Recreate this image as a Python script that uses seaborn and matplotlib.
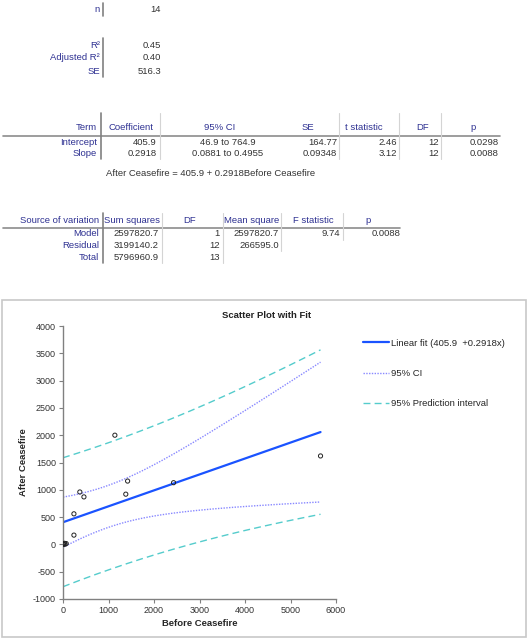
import numpy as np
import pandas as pd
import matplotlib
matplotlib.use("Agg")
import matplotlib.pyplot as plt
import seaborn as sns
from matplotlib.lines import Line2D

# ---------------- data ----------------
before = [5, 15, 30, 45, 70, 240, 240, 370, 460, 1140, 1380, 1420, 2430, 5660]
after = [10, 0, 20, 5, 15, 560, 170, 960, 870, 2000, 920, 1160, 1130, 1620]

n_label = "n"
n_value = "14"
summary_labels = ["R²", "Adjusted R²", "SE"]
summary_values = ["0.45", "0.40", "516.3"]

coef_headers = ["Term", "Coefficient", "95% CI", "SE", "t statistic", "DF", "p"]
coef_terms = ["Intercept", "Slope"]
coef_values = [405.9, 0.2918]
coef_text = ["405.9", "0.2918"]
coef_ci = ["46.9 to 764.9", "0.0881 to 0.4955"]
coef_se = ["164.77", "0.09348"]
coef_t = ["2.46", "3.12"]
coef_df = ["12", "12"]
coef_p = ["0.0298", "0.0088"]
equation = "After Ceasefire = 405.9 + 0.2918Before Ceasefire"

anova_headers = ["Source of variation", "Sum squares", "DF", "Mean square", "F statistic", "p"]
anova_sources = ["Model", "Residual", "Total"]
anova_ss = ["2597820.7", "3199140.2", "5796960.9"]
anova_df = ["1", "12", "13"]
anova_ms = ["2597820.7", "266595.0", ""]
anova_f = ["9.74", "", ""]
anova_p = ["0.0088", "", ""]

resid_se = 516.3
n_obs = 14
ci_mult = 2.7876   # Working-Hotelling band
pi_mult = 2.1788   # t(0.975, 12)

# ---------------- style ----------------
sns.set_theme(style="white")
plt.rcParams["font.family"] = ["Liberation Sans", "DejaVu Sans"]
plt.rcParams["axes.unicode_minus"] = False

W, H = 529, 640
fig = plt.figure(figsize=(W / 100, H / 100), dpi=100)

LBL = "#2e3192"
VAL = "#333333"
FS = 6.8


def fx(x):
    return x / W


def fy(y):
    return 1 - y / H


def T(x, y, s, ha="right", color=VAL, **kw):
    fig.text(fx(x), fy(y), s, ha=ha, va="center", fontsize=FS, color=color, **kw)


def L(x0, y0, x1, y1, color="#d4d4d4", lw=0.8):
    fig.add_artist(Line2D([fx(x0), fx(x1)], [fy(y0), fy(y1)], transform=fig.transFigure,
                          color=color, lw=lw))


# ---- section 1 ----
T(100, 9, n_label, color=LBL)
T(161, 9, n_value)
L(103, 3, 103, 16, color="#808080", lw=1.2)
for i, (lab, v) in enumerate(zip(summary_labels, summary_values)):
    y = 45 + i * 13
    T(100, y, lab, color=LBL)
    T(161, y, v)
L(103, 38, 103, 77, color="#808080", lw=1.2)

# ---- section 2: coefficients ----
hy = 128
hx = [97, 131, 220, 308, 364, 423, 473]
for j, (h, x) in enumerate(zip(coef_headers, hx)):
    T(x, hy, h, ha="right" if j == 0 else "center", color=LBL)
L(3, 135.5, 500, 135.5, color="#8c8c8c", lw=1.2)
L(101, 113, 101, 159, color="#808080", lw=1.2)
for x in [160, 339, 399, 441]:
    L(x, 113, x, 159)
for i in range(2):
    y = 142.5 + i * 11.5
    T(97, y, coef_terms[i], color=LBL)
    T(157, y, coef_text[i])
    T(228, y, coef_ci[i], ha="center")
    T(337, y, coef_se[i])
    T(397, y, coef_t[i])
    T(439, y, coef_df[i])
    T(499, y, coef_p[i])
T(106, 173, equation, ha="left")

# ---- section 3: ANOVA ----
ay = 220.5
ax_h = [99, 132, 190, 252, 313, 368]
for j, (h, x) in enumerate(zip(anova_headers, ax_h)):
    T(x, ay, h, ha="right" if j == 0 else "center", color=LBL)
L(3, 227.5, 400, 227.5, color="#8c8c8c", lw=1.2)
L(103, 213, 103, 263, color="#808080", lw=1.2)
for x, y1 in [(162, 263), (223, 263), (281, 251), (343, 240)]:
    L(x, 213, x, y1)
for i in range(3):
    y = 234 + i * 11.5
    T(99, y, anova_sources[i], color=LBL)
    T(159, y, anova_ss[i])
    T(220, y, anova_df[i])
    T(279, y, anova_ms[i])
    T(340, y, anova_f[i])
    T(400, y, anova_p[i])

# ---- chart box ----
fig.add_artist(plt.Rectangle((fx(2), fy(637)), fx(524), 337 / H, transform=fig.transFigure,
                             fill=False, edgecolor="#c8c8c8", lw=1.2))

# ---------------- scatter plot ----------------
ax = fig.add_axes([fx(63), fy(599), 273 / W, 273 / H])
df = pd.DataFrame({"Before Ceasefire": before, "After Ceasefire": after})

xb = np.array(before, dtype=float)
xbar = xb.mean()
sxx = ((xb - xbar) ** 2).sum()
grid = np.linspace(0, xb.max(), 200)
fit = coef_values[0] + coef_values[1] * grid
se_mean = resid_se * np.sqrt(1 / n_obs + (grid - xbar) ** 2 / sxx)
se_pred = resid_se * np.sqrt(1 + 1 / n_obs + (grid - xbar) ** 2 / sxx)

fit_label = f"Linear fit ({coef_text[0]}  +{coef_text[1]}x)"
sns.lineplot(x=grid, y=fit + pi_mult * se_pred, ax=ax, color="#55cccc", lw=1.0,
             linestyle=(0, (5, 3)), label="95% Prediction interval")
sns.lineplot(x=grid, y=fit - pi_mult * se_pred, ax=ax, color="#55cccc", lw=1.0,
             linestyle=(0, (5, 3)))
sns.lineplot(x=grid, y=fit + ci_mult * se_mean, ax=ax, color="#8888ff", lw=1.0,
             linestyle=(0, (1, 1)), label="95% CI")
sns.lineplot(x=grid, y=fit - ci_mult * se_mean, ax=ax, color="#8888ff", lw=1.0,
             linestyle=(0, (1, 1)))
sns.lineplot(x=grid, y=fit, ax=ax, color="#1a53ff", lw=1.6, label=fit_label)
sns.scatterplot(data=df, x="Before Ceasefire", y="After Ceasefire", ax=ax, s=9,
                facecolor="none", edgecolor="#222222", linewidth=0.7, zorder=5)

ax.set_xlim(0, 6000)
ax.set_ylim(-1000, 4000)
ax.set_xticks(np.arange(0, 6001, 1000))
ax.set_yticks(np.arange(-1000, 4001, 500))
for s in ["top", "right"]:
    ax.spines[s].set_visible(False)
for s in ["left", "bottom"]:
    ax.spines[s].set_color("#808080")
    ax.spines[s].set_linewidth(1.0)
ax.tick_params(axis="both", direction="out", length=3, width=0.8, color="#808080",
               labelsize=6.5, labelcolor="#333333", pad=2, left=True, bottom=True)
ax.set_xlabel("Before Ceasefire", fontsize=FS, fontweight="bold", labelpad=3)
ax.set_ylabel("After Ceasefire", fontsize=FS, fontweight="bold", labelpad=4)
fig.text(fx(267), fy(316), "Scatter Plot with Fit", ha="center", va="center",
         fontsize=FS, fontweight="bold", color="#222222")

h, l = ax.get_legend_handles_labels()
order = [l.index(fit_label), l.index("95% CI"), l.index("95% Prediction interval")]
ax.legend([h[i] for i in order], [l[i] for i in order], loc="upper left",
          bbox_to_anchor=(fx(358), fy(334)), bbox_transform=fig.transFigure,
          frameon=False, fontsize=FS, handlelength=2.8, handletextpad=0.2,
          labelspacing=2.25, borderpad=0)

fig.savefig("out.png", dpi=100)
